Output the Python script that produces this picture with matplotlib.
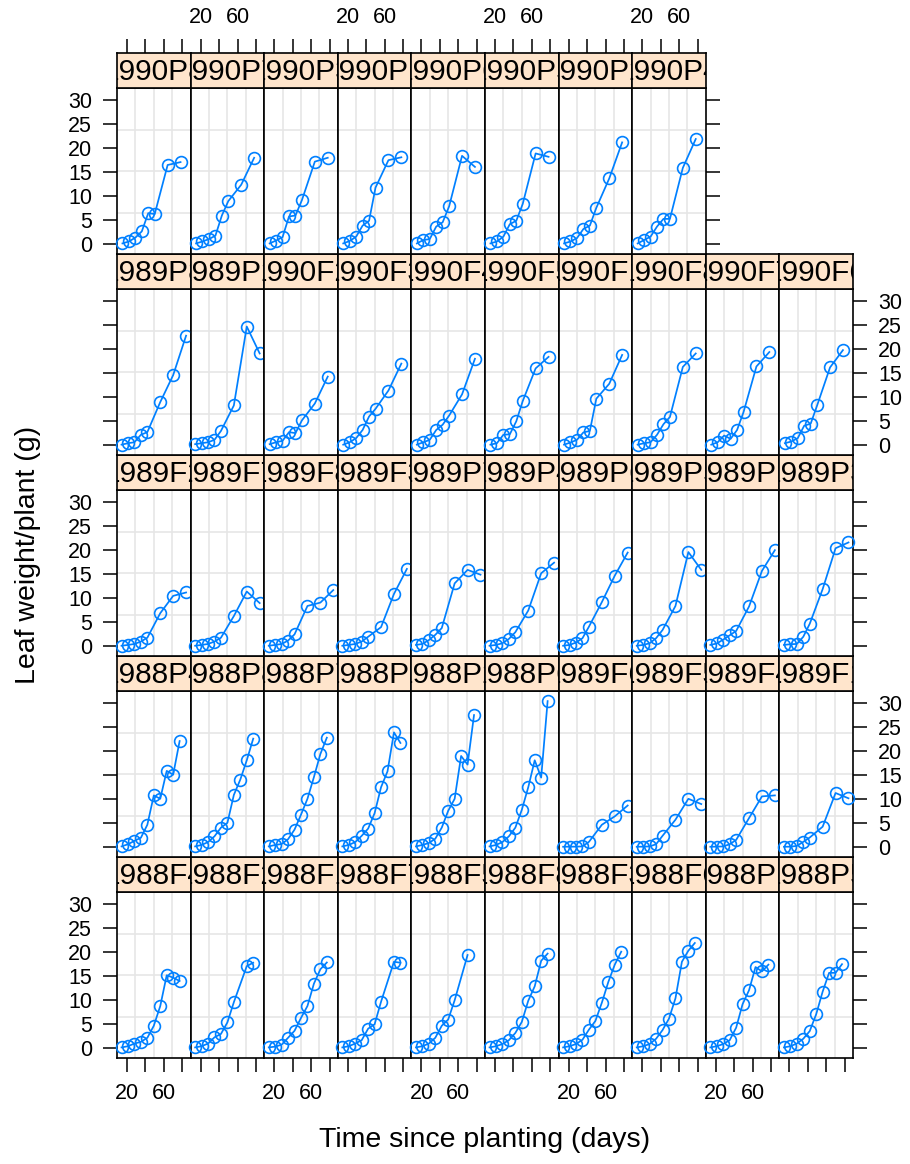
import matplotlib
matplotlib.use("Agg")
import matplotlib.pyplot as plt

plt.rcParams['font.family'] = ['Liberation Sans', 'DejaVu Sans']

# sampling times (days after planting) per season
t88 = [14, 21, 28, 35, 42, 49, 56, 63, 70, 77]
t88_no63 = [14, 21, 28, 35, 42, 49, 56, 70, 77]
t88_short = [14, 21, 28, 35, 42, 49, 56, 70]
t89 = [14, 21, 28, 35, 42, 56, 70, 84]
t90 = [15, 22, 29, 36, 43, 50, 64, 78]

# leaf weight per plant (g)
w_1988F4 = [0.1, 0.35, 0.9, 1.25, 2.1, 4.6, 8.7, 15.1, 14.6, 13.9]
w_1988F2 = [0.1, 0.35, 0.9, 2.2, 2.9, 5.3, 9.5, 17.0, 17.7]
w_1988F1 = [0.106, 0.261, 0.666, 2.11, 3.56, 6.23, 8.71, 13.35, 16.34, 17.75]
w_1988F7 = [0.1, 0.35, 0.9, 1.6, 4.0, 4.9, 9.6, 17.9, 17.7]
w_1988F5 = [0.1, 0.35, 0.9, 2.1, 4.6, 5.9, 9.9, 19.3]
w_1988F8 = [0.1, 0.35, 0.8, 1.6, 3.1, 5.4, 9.8, 12.8, 18.1, 19.6]
w_1988F3 = [0.1, 0.35, 0.8, 1.7, 3.8, 5.6, 9.4, 13.7, 17.3, 20.0]
w_1988F6 = [0.1, 0.35, 0.8, 1.9, 3.7, 6.1, 10.3, 17.9, 20.2, 21.8]
w_1988P1 = [0.1, 0.35, 0.8, 1.6, 4.2, 9.1, 12.0, 16.8, 15.9, 17.3]
w_1988P5 = [0.1, 0.35, 0.9, 1.9, 3.5, 7.0, 11.7, 15.6, 15.6, 17.4]

w_1988P4 = [0.1, 0.55, 1.25, 1.9, 4.6, 10.7, 10.0, 15.8, 15.0, 22.0]
w_1988P8 = [0.1, 0.4, 1.0, 2.2, 4.0, 5.0, 10.8, 14.0, 18.0, 22.5]
w_1988P7 = [0.1, 0.4, 0.6, 1.6, 3.6, 6.7, 10.0, 14.5, 19.3, 22.7]
w_1988P3 = [0.1, 0.4, 1.0, 2.3, 3.8, 7.0, 12.4, 15.7, 23.8, 21.6]
w_1988P2 = [0.1, 0.4, 0.8, 1.7, 4.0, 7.5, 10.0, 18.9, 17.1, 27.4]
w_1988P6 = [0.1, 0.4, 1.0, 2.2, 4.0, 7.7, 12.4, 18.0, 14.4, 30.3]
w_1989F6 = [0.03, 0.05, 0.05, 0.1, 1.05, 4.6, 6.35, 8.6]
w_1989F5 = [0.03, 0.05, 0.1, 0.55, 2.3, 5.65, 10.0, 8.9]
w_1989F4 = [0.03, 0.05, 0.1, 0.55, 1.45, 6.0, 10.5, 10.7]
w_1989F1 = [0.03, 0.05, 0.2, 1.05, 1.95, 4.2, 11.2, 10.1]

w_1989F2 = [0.03, 0.2, 0.4, 0.9, 1.7, 6.8, 10.4, 11.1]
w_1989F7 = [0.03, 0.2, 0.4, 0.9, 1.7, 6.2, 11.3, 8.9]
w_1989F8 = [0.03, 0.2, 0.4, 1.1, 2.4, 8.3, 9.0, 11.6]
w_1989F3 = [0.03, 0.2, 0.4, 0.9, 1.9, 3.9, 10.8, 16.0]
w_1989P7 = [0.2, 0.4, 1.2, 2.3, 3.7, 13.0, 15.8, 14.8]
w_1989P4 = [0.03, 0.2, 0.55, 1.45, 2.85, 7.35, 15.1, 17.3]
w_1989P6 = [0.03, 0.2, 0.7, 1.6, 4.0, 9.1, 14.6, 19.4]
w_1989P5 = [0.03, 0.2, 0.55, 1.6, 3.3, 8.3, 19.5, 15.8]
w_1989P1 = [0.2, 0.5, 1.3, 2.2, 3.1, 8.2, 15.6, 19.9]
w_1989P3 = [0.2, 0.35, 0.4, 1.9, 4.6, 11.8, 20.3, 21.5]

w_1989P8 = [0.05, 0.35, 0.55, 2.1, 2.65, 8.9, 14.5, 22.7]
w_1989P2 = [0.15, 0.35, 0.55, 1.05, 2.9, 8.2, 24.6, 19.0]
w_1990F2 = [0.15, 0.55, 0.85, 2.65, 2.45, 5.1, 8.6, 14.2]
w_1990F3 = [0.05, 0.55, 1.4, 3.1, 5.9, 7.5, 11.3, 16.9]
w_1990F4 = [0.05, 0.55, 1.05, 3.1, 4.2, 6.1, 10.5, 17.9]
w_1990F5 = [0.05, 0.35, 2.1, 2.2, 4.9, 9.1, 15.9, 18.3]
w_1990F1 = [0.05, 0.5, 1.05, 2.6, 2.9, 9.6, 12.7, 18.7]
w_1990F8 = [0.05, 0.35, 0.55, 2.1, 4.3, 5.8, 16.2, 19.0]
w_1990F7 = [0.05, 0.55, 1.95, 1.25, 3.1, 6.8, 16.3, 19.3]
w_1990F6 = [0.35, 0.7, 1.4, 4.0, 4.4, 8.2, 16.1, 19.7]

w_1990P8 = [0.1, 0.5, 1.3, 2.6, 6.4, 6.2, 16.4, 17.0]
w_1990P7 = [0.1, 0.5, 1.0, 1.7, 5.9, 8.9, 12.3, 17.9]
w_1990P3 = [0.1, 0.7, 1.4, 5.7, 5.9, 9.1, 17.1, 17.9]
w_1990P1 = [0.1, 0.6, 1.5, 3.8, 4.8, 11.7, 17.4, 18.0]
w_1990P6 = [0.1, 0.8, 1.0, 3.6, 4.5, 7.8, 18.3, 16.0]
w_1990P5 = [0.1, 0.5, 1.5, 4.1, 4.8, 8.3, 18.8, 18.1]
w_1990P2 = [0.1, 0.5, 1.2, 3.1, 3.8, 7.5, 13.6, 21.1]
w_1990P4 = [0.1, 0.8, 1.5, 3.6, 5.2, 5.2, 15.8, 21.8]

# panel order: bottom row first, left to right
panels = [
    ("1988F4", t88, w_1988F4), ("1988F2", t88_no63, w_1988F2), ("1988F1", t88, w_1988F1),
    ("1988F7", t88_no63, w_1988F7), ("1988F5", t88_short, w_1988F5), ("1988F8", t88, w_1988F8),
    ("1988F3", t88, w_1988F3), ("1988F6", t88, w_1988F6), ("1988P1", t88, w_1988P1),
    ("1988P5", t88, w_1988P5),
    ("1988P4", t88, w_1988P4), ("1988P8", t88, w_1988P8), ("1988P7", t88, w_1988P7),
    ("1988P3", t88, w_1988P3), ("1988P2", t88, w_1988P2), ("1988P6", t88, w_1988P6),
    ("1989F6", t89, w_1989F6), ("1989F5", t89, w_1989F5), ("1989F4", t89, w_1989F4),
    ("1989F1", t89, w_1989F1),
    ("1989F2", t89, w_1989F2), ("1989F7", t89, w_1989F7), ("1989F8", t89, w_1989F8),
    ("1989F3", t89, w_1989F3), ("1989P7", t89, w_1989P7), ("1989P4", t89, w_1989P4),
    ("1989P6", t89, w_1989P6), ("1989P5", t89, w_1989P5), ("1989P1", t89, w_1989P1),
    ("1989P3", t89, w_1989P3),
    ("1989P8", t89, w_1989P8), ("1989P2", t89, w_1989P2), ("1990F2", t90, w_1990F2),
    ("1990F3", t90, w_1990F3), ("1990F4", t90, w_1990F4), ("1990F5", t90, w_1990F5),
    ("1990F1", t90, w_1990F1), ("1990F8", t90, w_1990F8), ("1990F7", t90, w_1990F7),
    ("1990F6", t90, w_1990F6),
    ("1990P8", t90, w_1990P8), ("1990P7", t90, w_1990P7), ("1990P3", t90, w_1990P3),
    ("1990P1", t90, w_1990P1), ("1990P6", t90, w_1990P6), ("1990P5", t90, w_1990P5),
    ("1990P2", t90, w_1990P2), ("1990P4", t90, w_1990P4),
]

BLUE = "#0080ff"
STRIP = "#ffe5cc"
GRID = "#e6e6e6"
W, H = 910, 1164
NCOL, NROW = 10, 5
XLIM = (9.1, 88.9)
YLIM = (-2.1, 32.4)

# layout in pixels
left_px, pw = 117, 73.6
bottom_px, pitch, ph, sh = 1058, 201, 166, 35

fig = plt.figure(figsize=(W / 100, H / 100), dpi=100)

tick_kw = dict(direction="out", length=10, width=1.1, pad=8, labelsize=15.5, colors="black")

for i, (name, t, w) in enumerate(panels):
    r, c = divmod(i, NCOL)
    last_in_row = (c == NCOL - 1) or (i == len(panels) - 1)
    x0 = (left_px + c * pw) / W
    y0 = (H - (bottom_px - r * pitch)) / H
    ax = fig.add_axes([x0, y0, pw / W, ph / H])
    ax.set_xlim(*XLIM)
    ax.set_ylim(*YLIM)
    for f in (0.25, 0.5, 0.75):
        ax.axvline(XLIM[0] + f * (XLIM[1] - XLIM[0]), color=GRID, lw=1.2, zorder=0)
        ax.axhline(YLIM[0] + f * (YLIM[1] - YLIM[0]), color=GRID, lw=1.2, zorder=0)
    ax.plot(t, w, "-o", color=BLUE, mfc="none", mec=BLUE, ms=8.5, mew=1.2, lw=1.25,
            clip_on=False, zorder=3)
    ax.set_xticks([20, 40, 60, 80], ["20", "", "60", ""])
    ax.set_yticks(range(0, 31, 5))
    ax.tick_params(axis="both", **tick_kw)
    ax.tick_params(bottom=(r == 0), labelbottom=(r == 0 and c % 2 == 0),
                   top=False, labeltop=False,
                   left=(c == 0), labelleft=(c == 0 and r % 2 == 0),
                   right=last_in_row, labelright=(last_in_row and r % 2 == 1))
    for s in ax.spines.values():
        s.set_linewidth(1.2)

    # strip with the plot name, centred and clipped to the strip box
    sx = fig.add_axes([x0, y0 + ph / H, pw / W, sh / H])
    sx.set_facecolor(STRIP)
    sx.set_xlim(*XLIM)
    sx.set_yticks([])
    for s in sx.spines.values():
        s.set_linewidth(1.2)
    if r == NROW - 1:
        sx.set_xticks([20, 40, 60, 80], ["20", "", "60", ""])
        sx.tick_params(axis="x", **tick_kw)
        sx.tick_params(top=True, labeltop=(c % 2 == 1), bottom=False, labelbottom=False)
    else:
        sx.set_xticks([])
    sx.text(0.5, 0.45, name, transform=sx.transAxes, ha="center", va="center",
            fontsize=21.4, clip_on=True)

fig.text((left_px + 5 * pw) / W, 1 - 1140 / H, "Time since planting (days)",
         ha="center", va="center", fontsize=20.5)
fig.text(28 / W, 1 - 555 / H, "Leaf weight/plant (g)", rotation=90,
         ha="center", va="center", fontsize=20.5)

fig.savefig("out.png", dpi=100, facecolor="white")
